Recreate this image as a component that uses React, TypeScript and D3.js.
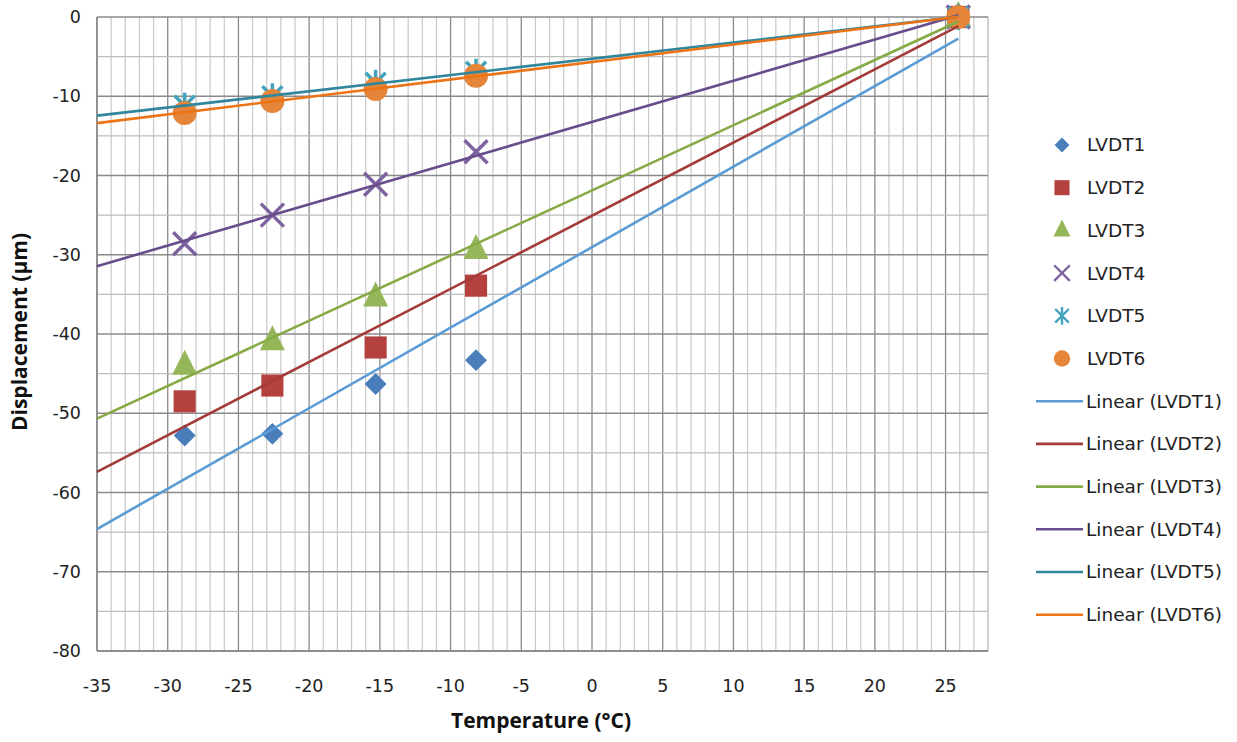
import { useEffect } from "react";
import * as d3 from "d3";

const WIDTH = 1237;
const HEIGHT = 742;
const MARGIN = { top: 17, right: 249, bottom: 91, left: 97 };

// temperatures of the five measurements (°C)
const TEMPS = [-28.8, -22.6, -15.3, -8.2, 25.9];

const LVDT1 = [-52.8, -52.6, -46.3, -43.3, 0];
const LVDT2 = [-48.5, -46.5, -41.7, -33.9, 0];
const LVDT3 = [-44.0, -40.9, -35.4, -29.4, 0];
const LVDT4 = [-28.6, -25.0, -21.1, -17.0, 0];
const LVDT5 = [-11.2, -10.0, -8.3, -6.9, 0];
const LVDT6 = [-12.1, -10.6, -9.1, -7.4, 0];

const X_TICKS = [-35, -30, -25, -20, -15, -10, -5, 0, 5, 10, 15, 20, 25];
const Y_TICKS = [0, -10, -20, -30, -40, -50, -60, -70, -80];

type Shape = "diamond" | "square" | "triangle" | "x" | "star" | "circle";

const SERIES = [
  { name: "LVDT1", values: LVDT1, marker: "#4a7ebb", line: "#5b9bd5", shape: "diamond" as Shape },
  { name: "LVDT2", values: LVDT2, marker: "#b4413e", line: "#a33c39", shape: "square" as Shape },
  { name: "LVDT3", values: LVDT3, marker: "#95b75a", line: "#86aa45", shape: "triangle" as Shape },
  { name: "LVDT4", values: LVDT4, marker: "#7d62a0", line: "#694c8c", shape: "x" as Shape },
  { name: "LVDT5", values: LVDT5, marker: "#42a3bd", line: "#31869b", shape: "star" as Shape },
  { name: "LVDT6", values: LVDT6, marker: "#e4853a", line: "#ec7417", shape: "circle" as Shape },
];

// least squares fit, as Excel's linear trendline does
function fit(xs: number[], ys: number[]) {
  const mx = d3.mean(xs)!;
  const my = d3.mean(ys)!;
  let sxy = 0;
  let sxx = 0;
  xs.forEach((x, i) => {
    sxy += (x - mx) * (ys[i] - my);
    sxx += (x - mx) * (x - mx);
  });
  const slope = sxy / sxx;
  return { slope, intercept: my - slope * mx };
}

function Marker({ shape, color, cx, cy }: { shape: Shape; color: string; cx: number; cy: number }) {
  const t = `translate(${cx},${cy})`;
  if (shape === "diamond")
    return <path transform={`${t} rotate(45)`} d={d3.symbol(d3.symbolSquare, 240)()!} fill={color} />;
  if (shape === "square")
    return <path transform={t} d={d3.symbol(d3.symbolSquare, 490)()!} fill={color} />;
  if (shape === "triangle")
    return <path transform={`${t} translate(0,-2)`} d="M0,-14L12.5,11L-12.5,11Z" fill={color} />;
  if (shape === "circle") return <circle cx={cx} cy={cy} r={12} fill={color} />;
  if (shape === "x")
    return (
      <path transform={t} d="M-11.5,-11.5L11.5,11.5M-11.5,11.5L11.5,-11.5" stroke={color} strokeWidth={3.5} fill="none" />
    );
  return (
    <path
      transform={t}
      d="M-10,-10L10,10M-10,10L10,-10M0,-13L0,13"
      stroke={color}
      strokeWidth={3.5}
      fill="none"
    />
  );
}

export default function App() {
  useEffect(() => {
    document.body.style.margin = "0";
  }, []);

  const x = d3.scaleLinear().domain([-35, 28]).range([MARGIN.left, WIDTH - MARGIN.right]);
  const y = d3.scaleLinear().domain([-80, 0]).range([HEIGHT - MARGIN.bottom, MARGIN.top]);
  const [x0, x1] = x.range();
  const [yb, yt] = y.range();

  const xMinor = d3.range(-35, 29, 1);
  const yMinor = d3.range(-80, 1, 5);
  const xEnd = d3.max(TEMPS)!;

  const legendX = 1062;
  const legendY0 = 145;
  const legendStep = 42.7;
  const font = "'DejaVu Sans', Verdana, sans-serif";
  const titleFont = "'Open Sans', sans-serif";

  return (
    <svg width={WIDTH} height={HEIGHT} style={{ display: "block", background: "#fff" }}>
      {/* grid */}
      <g>
        {xMinor.map((v) => (
          <line
            key={`vx${v}`}
            x1={x(v)}
            x2={x(v)}
            y1={yt}
            y2={yb}
            stroke={v % 5 === 0 ? "#8a8a8a" : "#c8c8c8"}
            strokeWidth={v % 5 === 0 ? 1.3 : 1.2}
          />
        ))}
        <line x1={x1} x2={x1} y1={yt} y2={yb} stroke="#c6c6c6" strokeWidth={1.2} />
        {yMinor.map((v) => (
          <line
            key={`hy${v}`}
            x1={x0}
            x2={x1}
            y1={y(v)}
            y2={y(v)}
            stroke={v % 10 === 0 ? "#8a8a8a" : "#bdbdbd"}
            strokeWidth={v % 10 === 0 ? 1.3 : 1.2}
          />
        ))}
        <line x1={x0} x2={x0} y1={yt} y2={yb} stroke="#868686" strokeWidth={1.5} />
        <line x1={x0} x2={x1} y1={yb} y2={yb} stroke="#868686" strokeWidth={1.5} />
      </g>

      {/* tick labels */}
      <g fontFamily={font} fontSize={17.5} fill="#222">
        {X_TICKS.map((v) => (
          <text key={`xt${v}`} x={x(v)} y={yb + 41} textAnchor="middle">
            {v}
          </text>
        ))}
        {Y_TICKS.map((v) => (
          <text key={`yt${v}`} x={81} y={y(v)} dy="0.35em" textAnchor="end">
            {v}
          </text>
        ))}
      </g>

      {/* axis titles */}
      <text x={541} y={728} textAnchor="middle" fontFamily={titleFont} fontWeight="bold" fontSize={21} fill="#111">
        Temperature (°C)
      </text>
      <text
        transform="translate(27,332) rotate(-90)"
        textAnchor="middle"
        fontFamily={titleFont}
        fontWeight="bold"
        fontSize={21}
        fill="#111"
      >
        Displacement (µm)
      </text>

      {/* markers */}
      <g>
        {SERIES.map((s) =>
          s.values.map((v, i) => (
            <Marker key={`${s.name}-${i}`} shape={s.shape} color={s.marker} cx={x(TEMPS[i])} cy={y(v)} />
          )),
        )}
      </g>

      {/* linear trendlines */}
      <g>
        {SERIES.map((s) => {
          const { slope, intercept } = fit(TEMPS, s.values);
          return (
            <line
              key={`fit-${s.name}`}
              x1={x(-35)}
              y1={y(slope * -35 + intercept)}
              x2={x(xEnd)}
              y2={y(slope * xEnd + intercept)}
              stroke={s.line}
              strokeWidth={2.6}
            />
          );
        })}
      </g>

      {/* legend */}
      <g fontFamily={font} fontSize={18.5} fill="#222">
        {SERIES.map((s, i) => {
          const cy = legendY0 + i * legendStep;
          return (
            <g key={`lm-${s.name}`}>
              <g transform={`translate(${legendX},${cy}) scale(0.68) translate(${-legendX},${-cy})`}>
                <Marker shape={s.shape} color={s.marker} cx={legendX} cy={cy} />
              </g>
              <text x={1087} y={cy} dy="0.35em">
                {s.name}
              </text>
            </g>
          );
        })}
        {SERIES.map((s, i) => {
          const cy = legendY0 + (i + 6) * legendStep;
          return (
            <g key={`ll-${s.name}`}>
              <line x1={1036} x2={1083} y1={cy} y2={cy} stroke={s.line} strokeWidth={2.6} />
              <text x={1086} y={cy} dy="0.35em">
                Linear ({s.name})
              </text>
            </g>
          );
        })}
      </g>
    </svg>
  );
}
